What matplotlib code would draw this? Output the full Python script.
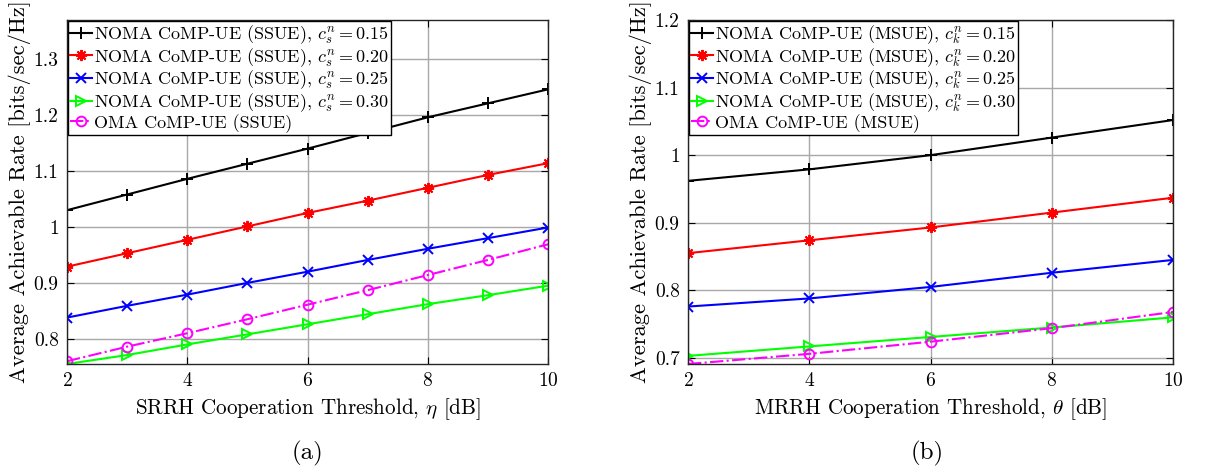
import numpy as np
import matplotlib
matplotlib.use('Agg')
import matplotlib.pyplot as plt
from matplotlib.ticker import FuncFormatter

plt.rcParams['font.family'] = 'serif'
plt.rcParams['font.serif'] = ['cmr10', 'DejaVu Serif']
plt.rcParams['mathtext.fontset'] = 'cm'
plt.rcParams['axes.formatter.use_mathtext'] = True

# (a) SSUE, threshold eta
eta = [2, 3, 4, 5, 6, 7, 8, 9, 10]
ssue_015 = [1.030, 1.058, 1.086, 1.113, 1.140, 1.168, 1.196, 1.221, 1.246]
ssue_020 = [0.929, 0.953, 0.977, 1.001, 1.025, 1.047, 1.070, 1.093, 1.114]
ssue_025 = [0.838, 0.859, 0.879, 0.900, 0.920, 0.941, 0.961, 0.980, 0.999]
ssue_030 = [0.755, 0.771, 0.790, 0.808, 0.826, 0.844, 0.862, 0.878, 0.895]
ssue_oma = [0.760, 0.786, 0.810, 0.835, 0.861, 0.887, 0.914, 0.941, 0.969]

# (b) MSUE, threshold theta
theta = [2, 4, 6, 8, 10]
msue_015 = [0.962, 0.979, 1.000, 1.026, 1.052]
msue_020 = [0.855, 0.874, 0.893, 0.915, 0.937]
msue_025 = [0.776, 0.788, 0.805, 0.826, 0.845]
msue_030 = [0.703, 0.717, 0.731, 0.745, 0.760]
msue_oma = [0.691, 0.706, 0.724, 0.744, 0.768]

fig = plt.figure(figsize=(12.25, 4.72), dpi=100)
ax1 = fig.add_axes([67/1225, 1-364/472, 481/1225, 344/472])
ax2 = fig.add_axes([688/1225, 1-364/472, 485/1225, 344/472])

styles = [('k', '+', '-', 8), ('r', (8, 2, 0), '-', 8), ('b', 'x', '-', 6.5),
          ((0, 1, 0), '>', '-', 7), ((1, 0, 1), 'o', '-.', 7)]

def draw(ax, x, series, labels):
    for (c, m, ls, ms), y, lab in zip(styles, series, labels):
        ax.plot(x, y, color=c, marker=m, linestyle=ls, linewidth=1.5,
                markersize=ms, markerfacecolor='none', markeredgewidth=1.4, label=lab)
    ax.grid(True, color='#a8a8a8', linewidth=1.0)
    ax.set_axisbelow(True)
    ax.tick_params(direction='in', top=True, right=True, labelsize=14, length=5, pad=6)
    for s in ax.spines.values():
        s.set_color('#262626')
        s.set_linewidth(1.0)
    ax.yaxis.set_major_formatter(FuncFormatter(lambda v, p: '%g' % round(v, 3)))
    ax.set_xlim(2, 10)
    ax.set_xticks([2, 4, 6, 8, 10])
    ax.set_ylabel('Average Achievable Rate [bits/sec/Hz]', fontsize=16.2, labelpad=2)
    leg = ax.legend(loc='upper left', fontsize=13, handlelength=1.2, handletextpad=0.12,
                    borderpad=0.12, labelspacing=0.0, borderaxespad=0.05,
                    fancybox=False, framealpha=1, edgecolor='black')
    leg.get_frame().set_linewidth(1.0)

draw(ax1, eta, [ssue_015, ssue_020, ssue_025, ssue_030, ssue_oma],
     [r'NOMA CoMP-UE (SSUE), $c_s^n = 0.15$', r'NOMA CoMP-UE (SSUE), $c_s^n = 0.20$',
      r'NOMA CoMP-UE (SSUE), $c_s^n = 0.25$', r'NOMA CoMP-UE (SSUE), $c_s^n = 0.30$',
      'OMA CoMP-UE (SSUE)'])
ax1.set_ylim(0.755, 1.37)
ax1.set_yticks([0.8, 0.9, 1.0, 1.1, 1.2, 1.3])
ax1.set_xlabel(r'SRRH Cooperation Threshold, $\eta$ [dB]', fontsize=15.2)

draw(ax2, theta, [msue_015, msue_020, msue_025, msue_030, msue_oma],
     [r'NOMA CoMP-UE (MSUE), $c_k^n = 0.15$', r'NOMA CoMP-UE (MSUE), $c_k^n = 0.20$',
      r'NOMA CoMP-UE (MSUE), $c_k^n = 0.25$', r'NOMA CoMP-UE (MSUE), $c_k^n = 0.30$',
      'OMA CoMP-UE (MSUE)'])
ax2.set_ylim(0.691, 1.2)
ax2.set_yticks([0.7, 0.8, 0.9, 1.0, 1.1, 1.2])
ax2.set_xlabel(r'MRRH Cooperation Threshold, $\theta$ [dB]', fontsize=15.2)

fig.text(308/1225, 1-453/472, '(a)', fontsize=18, ha='center', va='center')
fig.text(927/1225, 1-453/472, '(b)', fontsize=18, ha='center', va='center')

fig.savefig('out.png', dpi=100)
